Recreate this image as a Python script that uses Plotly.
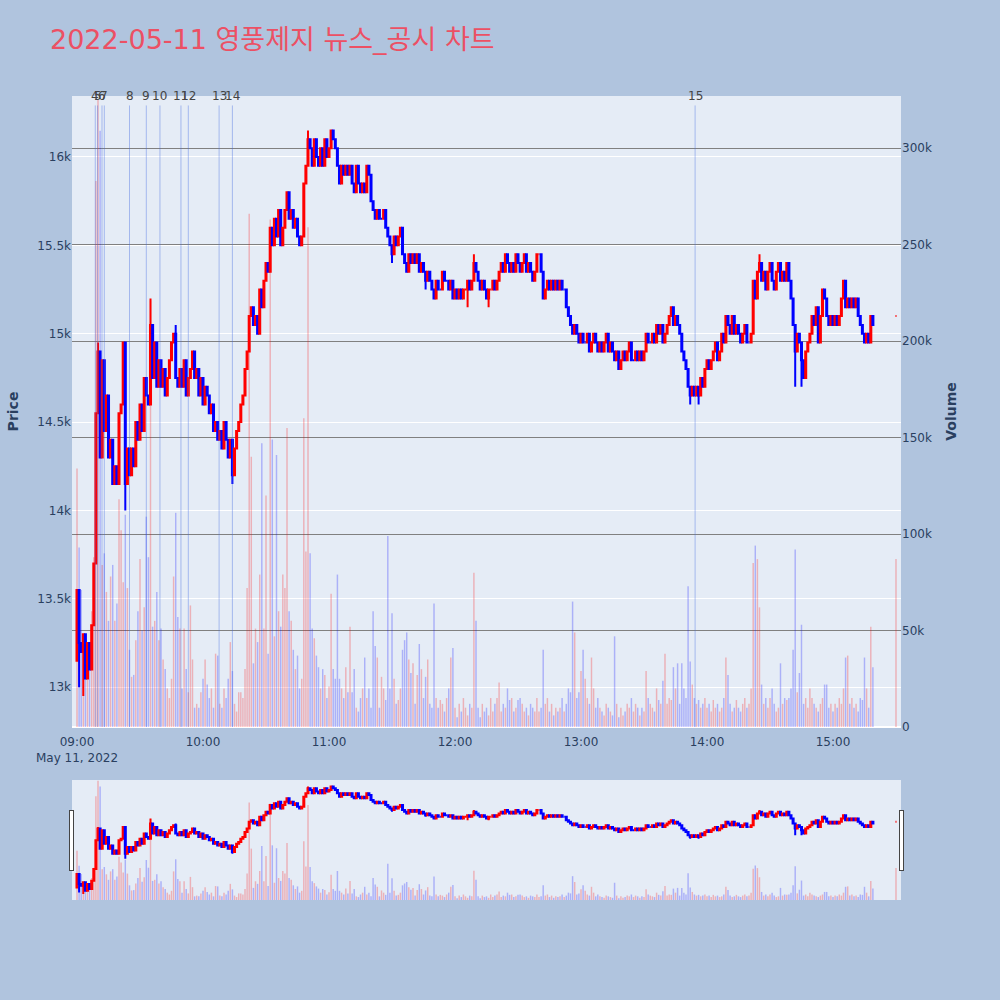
import pandas as pd
import plotly.graph_objects as go
from plotly.subplots import make_subplots

TITLE = "2022-05-11 영풍제지 뉴스_공시 차트"
SESSION_START = "2022-05-11 09:00"

# minute offsets from 09:00 (regular session 09:00-15:19, closing auction 15:30)
minute_offsets = list(range(380)) + [390]

first_open = 13150
close_prices = [
    13550, 13250, 13200, 13300, 13050, 13250, 13100, 13350, 13700, 14550,
    14900, 14300, 14850, 14450, 14650, 14300, 14400, 14150, 14250, 14150,
    14550, 14600, 14950, 14150, 14350, 14200, 14350, 14250, 14500, 14400,
    14600, 14450, 14750, 14650, 14600, 15050, 14750, 14950, 14700, 14850,
    14700, 14800, 14650, 14750, 14850, 14950, 15000, 14750, 14700, 14800,
    14700, 14850, 14650, 14750, 14800, 14900, 14750, 14800, 14650, 14750,
    14600, 14700, 14650, 14550, 14600, 14450, 14500, 14400, 14450, 14350,
    14500, 14400, 14300, 14400, 14200, 14350, 14450, 14500, 14600, 14650,
    14800, 14900, 15100, 15150, 15050, 15100, 15000, 15250, 15150, 15300,
    15400, 15350, 15600, 15500, 15650, 15550, 15700, 15500, 15600, 15700,
    15800, 15650, 15700, 15600, 15650, 15550, 15500, 15550, 15850, 15950,
    16100, 16050, 15950, 16100, 16000, 15950, 16050, 15950, 16100, 16000,
    16050, 16150, 16100, 16050, 15950, 15850, 15950, 15900, 15950, 15900,
    15950, 15850, 15800, 15950, 15850, 15800, 15850, 15800, 15950, 15900,
    15750, 15700, 15650, 15700, 15650, 15650, 15700, 15600, 15550, 15500,
    15450, 15550, 15500, 15550, 15600, 15450, 15400, 15350, 15450, 15400,
    15450, 15400, 15450, 15350, 15400, 15350, 15300, 15350, 15300, 15250,
    15200, 15300, 15250, 15250, 15350, 15300, 15300, 15250, 15300, 15200,
    15250, 15200, 15250, 15200, 15250, 15250, 15300, 15250, 15300, 15400,
    15350, 15300, 15250, 15300, 15250, 15200, 15250, 15250, 15300, 15250,
    15300, 15350, 15400, 15350, 15450, 15400, 15350, 15400, 15350, 15450,
    15400, 15350, 15400, 15450, 15350, 15400, 15350, 15300, 15350, 15450,
    15450, 15350, 15200, 15250, 15300, 15250, 15300, 15250, 15300, 15250,
    15300, 15250, 15250, 15150, 15100, 15050, 15000, 15050, 15000, 14950,
    15000, 14950, 14950, 15000, 14900, 14950, 15000, 14950, 14900, 14950,
    14900, 14950, 15000, 14900, 14950, 14900, 14850, 14900, 14800, 14850,
    14900, 14850, 14900, 14950, 14850, 14850, 14900, 14850, 14900, 14850,
    14900, 15000, 14950, 14950, 15000, 14950, 15050, 15000, 15050, 14950,
    15000, 15050, 15100, 15150, 15050, 15100, 15050, 15000, 14900, 14850,
    14800, 14700, 14650, 14700, 14650, 14700, 14650, 14750, 14700, 14800,
    14850, 14800, 14850, 14900, 14950, 14850, 14900, 15000, 14950, 15100,
    15050, 15000, 15100, 15000, 15050, 15000, 14950, 15000, 15050, 14950,
    14950, 15000, 15300, 15200, 15350, 15400, 15300, 15350, 15250, 15350,
    15400, 15300, 15250, 15350, 15400, 15300, 15350, 15300, 15400, 15300,
    15200, 15050, 14900, 15000, 14950, 14850, 14750, 14900, 14950, 15000,
    15100, 15050, 15150, 14950, 15100, 15250, 15200, 15100, 15050, 15100,
    15050, 15100, 15050, 15100, 15200, 15300, 15150, 15200, 15150, 15200,
    15150, 15200, 15100, 15050, 15000, 14950, 15000, 14950, 15100, 15050,
    15100,
]
auction_open = 15100

# visible wicks (minute offset -> price)
wick_highs = {10: 14950, 35: 15200, 47: 15050, 110: 16150, 121: 16150,
              189: 15450, 325: 15450}
wick_lows = {1: 13000, 3: 12950, 23: 14000, 74: 14150, 150: 15400,
             157: 15350, 166: 15250, 186: 15150, 196: 15150, 292: 14600,
             296: 14600, 342: 14700, 345: 14700}

volumes_k = [
    134, 93, 71, 45, 32, 28, 40, 60, 88, 283,
    325, 309, 84, 90, 70, 55, 78, 84, 55, 64,
    118, 102, 75, 110, 72, 40, 26, 27, 45, 60,
    87, 50, 62, 109, 88, 221, 52, 55, 70, 45,
    51, 35, 30, 20, 15, 25, 78, 111, 57, 51,
    20, 51, 30, 18, 63, 35, 10, 12, 10, 18,
    25, 35, 22, 15, 20, 10, 38, 37, 12, 10,
    20, 15, 25, 44, 29, 12, 8, 18, 18, 15,
    30, 72, 266, 140, 33, 51, 44, 79, 147, 51,
    120, 38, 263, 149, 47, 141, 60, 52, 79, 72,
    155, 60, 55, 40, 30, 37, 20, 25, 160, 91,
    259, 90, 51, 46, 37, 31, 20, 30, 27, 15,
    21, 69, 30, 25, 79, 25, 20, 15, 31, 18,
    52, 18, 30, 10, 8, 15, 20, 36, 15, 20,
    10, 60, 42, 36, 10, 26, 20, 14, 99, 20,
    59, 25, 12, 14, 20, 40, 45, 49, 35, 28,
    33, 12, 27, 43, 30, 15, 26, 35, 12, 10,
    64, 15, 10, 14, 12, 8, 15, 20, 36, 41,
    10, 5, 12, 8, 15, 10, 6, 12, 10, 80,
    55, 10, 5, 12, 8, 10, 6, 15, 8, 12,
    15, 23, 8, 12, 10, 20, 14, 15, 8, 10,
    14, 15, 12, 8, 10, 6, 12, 10, 8, 15,
    8, 10, 40, 12, 15, 8, 12, 6, 10, 8,
    10, 15, 8, 12, 20, 18, 65, 49, 15, 18,
    29, 40, 25, 15, 12, 36, 20, 10, 15, 10,
    8, 6, 12, 10, 8, 6, 47, 12, 5, 10,
    6, 8, 12, 10, 15, 8, 12, 10, 6, 10,
    8, 29, 15, 12, 10, 8, 20, 14, 12, 24,
    38, 12, 15, 14, 31, 20, 33, 12, 33, 20,
    15, 73, 34, 22, 15, 12, 14, 10, 12, 15,
    10, 12, 8, 14, 10, 12, 8, 10, 15, 36,
    27, 12, 8, 10, 14, 10, 8, 12, 15, 10,
    12, 20, 85, 94, 87, 62, 22, 12, 15, 10,
    15, 20, 12, 8, 10, 33, 12, 15, 14, 15,
    20, 40, 92, 18, 28, 53, 12, 15, 10, 20,
    15, 12, 10, 8, 12, 15, 22, 22, 10, 12,
    8, 12, 10, 15, 12, 20, 36, 37, 12, 15,
    10, 12, 8, 15, 14, 36, 20, 10, 52, 31,
    87,
]

news_labels = ["4", "5", "6", "7", "8", "9", "10", "11", "12", "13", "14", "15"]
news_times = ["2022-05-11 09:08:42", "2022-05-11 09:09:48", "2022-05-11 09:11:54",
              "2022-05-11 09:13:00", "2022-05-11 09:25:00", "2022-05-11 09:33:00",
              "2022-05-11 09:39:30", "2022-05-11 09:49:30", "2022-05-11 09:53:00",
              "2022-05-11 10:07:40", "2022-05-11 10:14:00", "2022-05-11 13:54:20"]

# ---- build OHLC ----
t0 = pd.Timestamp(SESSION_START)
times = [t0 + pd.Timedelta(minutes=m) for m in minute_offsets]
opens, highs, lows = [], [], []
prev = first_open
for i, (m, c) in enumerate(zip(minute_offsets, close_prices)):
    o = prev if i < 380 else auction_open
    opens.append(o)
    highs.append(wick_highs.get(m, max(o, c)))
    lows.append(wick_lows.get(m, min(o, c)))
    prev = c

vol_colors = []
pc = None
for o, c in zip(opens, close_prices):
    up = c > o or (c == o and pc is not None and c >= pc)
    vol_colors.append("rgba(255,0,0,0.25)" if up else "rgba(0,0,255,0.25)")
    pc = c

fig = make_subplots(specs=[[{"secondary_y": True}]])
fig.add_trace(go.Candlestick(
    x=times, open=opens, high=highs, low=lows, close=close_prices,
    increasing=dict(line=dict(color="red", width=2), fillcolor="red"),
    decreasing=dict(line=dict(color="blue", width=2), fillcolor="blue"),
    name="Price", showlegend=False), secondary_y=False)
fig.add_trace(go.Bar(
    x=times, y=[v * 1000 for v in volumes_k], marker=dict(color=vol_colors, line=dict(width=0)),
    name="Volume", showlegend=False), secondary_y=True)

for lab, t in zip(news_labels, news_times):
    fig.add_shape(type="line", xref="x", yref="paper", x0=t, x1=t, y0=0, y1=0.985,
                  line=dict(color="rgba(65,105,225,0.4)", width=1))
    fig.add_annotation(x=t, y=1.0, xref="x", yref="paper", text=lab, showarrow=False,
                       yanchor="middle", font=dict(size=12, color="#444"))

x_range = ["2022-05-11 08:57:37", "2022-05-11 15:32:23"]
fig.update_layout(
    width=1000, height=1000,
    paper_bgcolor="#B0C4DE",
    font=dict(family="Verdana, DejaVu Sans, Noto Sans CJK KR, sans-serif"),
    title=dict(text=TITLE, x=0.05, xanchor="left", y=0.96, yanchor="middle",
               font=dict(size=27, color="rgb(236,80,100)")),
    margin=dict(l=72, r=99, t=96, b=100),
    showlegend=False,
    bargap=0.3,
)
fig.update_xaxes(range=x_range, showgrid=False, domain=[0, 1],
                 ticks="outside", ticklen=4, tickcolor="rgba(0,0,0,0)",
                 rangeslider=dict(visible=True, range=x_range, thickness=0.1493,
                                  bgcolor="#E5ECF6"))
fig.update_yaxes(title_text="<b>Price</b>", range=[12775, 16345], dtick=500,
                 secondary_y=False)
fig.update_yaxes(title_text="<b>Volume</b>", range=[0, 327000], dtick=50000,
                 showgrid=True, gridcolor="gray", secondary_y=True)

fig.write_html("out.html", config={"displayModeBar": False},
               post_script="document.body.style.margin='0';")
